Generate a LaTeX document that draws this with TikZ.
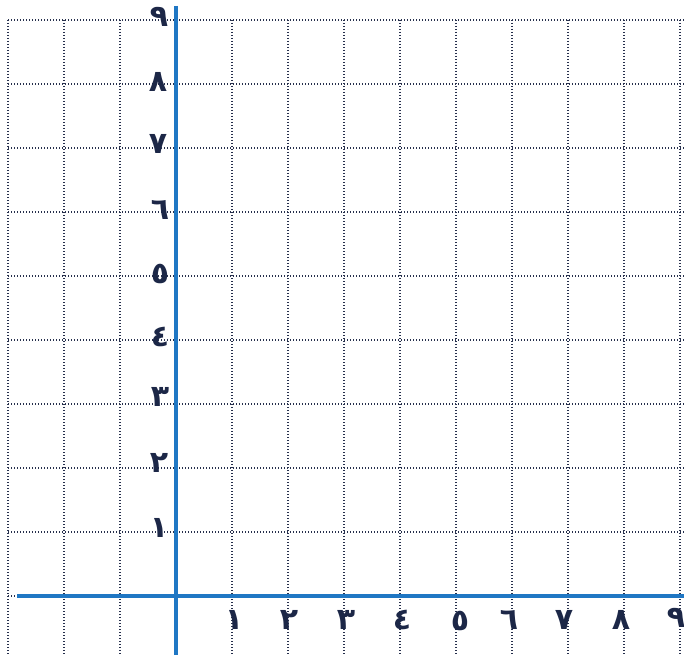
\documentclass[tikz,border=0pt]{standalone}
\usepackage{fontspec}
\newfontfamily\arabicfont[Script=Arabic]{DejaVu Sans}
\definecolor{gridc}{HTML}{27304D}
\definecolor{axisc}{HTML}{1F77C4}
\definecolor{numc}{HTML}{1C2747}
\tikzset{
  gridline/.style={gridc, line width=1.6pt, dash pattern=on 1.4pt off 1.6pt},
  axisline/.style={axisc, line width=3.8pt},
  ylab/.style={text=numc, font=\arabicfont\bfseries\fontsize{30}{30}\selectfont, inner sep=0pt, anchor=center},
  xlab/.style={text=numc, font=\arabicfont\bfseries\fontsize{30}{30}\selectfont, inner sep=0pt, anchor=center}
}
\begin{document}
\begin{tikzpicture}[x=1pt,y=-1pt]
\useasboundingbox[fill=white] (0,0) rectangle (684,655);
% vertical dotted grid lines
\foreach \i in {0,1,2,4,5,6,7,8,9,10,11,12}{
  \draw[gridline] ({8+56*\i},20) -- ({8+56*\i},655);
}
% horizontal dotted grid lines
\foreach \j in {0,...,9}{
  \draw[gridline] (8,{20+64*\j}) -- (684,{20+64*\j});
}
% axes
\coordinate (ytop) at (176,6);
\coordinate (ybot) at (176,655);
\coordinate (xleft) at (17,596);
\coordinate (xright) at (684,596);
\draw[axisline] (ytop) -- (ybot);
\draw[axisline] (xleft) -- (xright);
% y labels
\node[ylab] (y1) at (159,528) {١};
\node[ylab] (y2) at (159,463) {٢};
\node[ylab] (y3) at (160,397) {٣};
\node[ylab] (y4) at (160,337) {٤};
\node[ylab] (y5) at (160,274) {٥};
\node[ylab] (y6) at (160,210) {٦};
\node[ylab] (y7) at (158,144) {٧};
\node[ylab] (y8) at (158,82) {٨};
\node[ylab] (y9) at (159,17) {٩};
% x labels
\node[xlab] (x1) at (234,620) {١};
\node[xlab] (x2) at (289,620) {٢};
\node[xlab] (x3) at (346,620) {٣};
\node[xlab] (x4) at (402,620) {٤};
\node[xlab] (x5) at (460,621) {٥};
\node[xlab] (x6) at (509,620) {٦};
\node[xlab] (x7) at (564,620) {٧};
\node[xlab] (x8) at (621,620) {٨};
\node[xlab] (x9) at (676,618) {٩};
\end{tikzpicture}
\end{document}
